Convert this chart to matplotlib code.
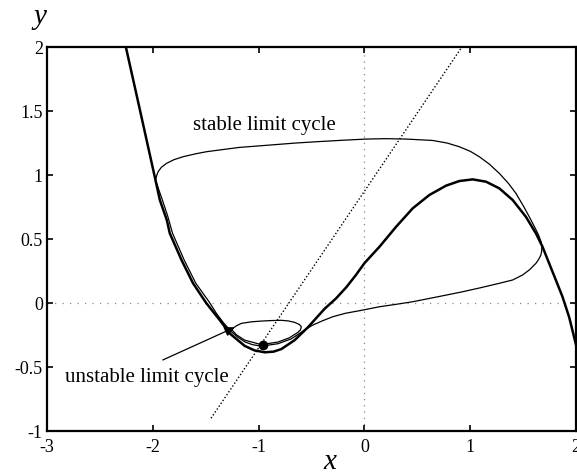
import numpy as np
import matplotlib
matplotlib.use("Agg")
import matplotlib.pyplot as plt

plt.rcParams['font.family'] = ['Liberation Serif', 'DejaVu Serif']
plt.rcParams['axes.unicode_minus'] = False

# cubic nullcline (thick)
cubic_x = [-2.255, -2.129, -2.059, -1.975, -1.934, -1.868, -1.840, -1.729, -1.620,
           -1.494, -1.368, -1.270, -1.132, -1.040, -0.943, -0.860, -0.786, -0.660,
           -0.535, -0.377, -0.270, -0.170, -0.080, 0.0, 0.142, 0.299, 0.456, 0.613,
           0.771, 0.896, 1.022, 1.148, 1.274, 1.400, 1.525, 1.620, 1.682, 1.745,
           1.808, 1.871, 1.934, 2.0]
cubic_y = [2.0, 1.534, 1.273, 0.960, 0.805, 0.648, 0.545, 0.336, 0.154,
           -0.002, -0.133, -0.240, -0.335, -0.370, -0.385, -0.380, -0.360, -0.290,
           -0.190, -0.045, 0.035, 0.125, 0.220, 0.312, 0.440, 0.596, 0.740, 0.844,
           0.917, 0.953, 0.966, 0.948, 0.896, 0.805, 0.674, 0.544, 0.440, 0.310,
           0.180, 0.049, -0.110, -0.330]

# linear nullcline (dotted)
lin_x = [-1.45, 0.92]
lin_y = [-0.90, 2.00]

# stable limit cycle
stable_x = [-1.975, -1.962, -1.950, -1.920, -1.871, -1.800, -1.714, -1.600, -1.494,
            -1.330, -1.179, -0.896, -0.650, -0.456, -0.200, 0.016, 0.200, 0.393,
            0.645, 0.780, 0.896, 1.000, 1.085, 1.180, 1.274, 1.360, 1.431, 1.500,
            1.557, 1.610, 1.645, 1.668, 1.676, 1.674, 1.667, 1.645, 1.620, 1.560,
            1.494, 1.400, 1.274, 1.100, 0.927, 0.700, 0.456, 0.300, 0.142, -0.047,
            -0.180, -0.299, -0.400, -0.488, -0.566, -0.613, -0.692, -0.818, -0.975,
            -1.060, -1.132, -1.200, -1.258, -1.337, -1.400, -1.469, -1.594, -1.704,
            -1.814, -1.860, -1.910, -1.975]
stable_y = [0.960, 1.000, 1.026, 1.060, 1.091, 1.120, 1.143, 1.165, 1.182,
            1.200, 1.216, 1.234, 1.250, 1.260, 1.272, 1.281, 1.284, 1.281,
            1.270, 1.250, 1.221, 1.185, 1.143, 1.085, 1.013, 0.935, 0.857, 0.760,
            0.674, 0.590, 0.531, 0.480, 0.440, 0.405, 0.375, 0.340, 0.310, 0.260,
            0.219, 0.180, 0.154, 0.120, 0.088, 0.050, 0.010, -0.010, -0.029, -0.060,
            -0.080, -0.107, -0.140, -0.172, -0.210, -0.237, -0.280, -0.318, -0.337,
            -0.325, -0.303, -0.265, -0.224, -0.150, -0.080, 0.010, 0.154, 0.336,
            0.545, 0.680, 0.805, 0.960]

# unstable limit cycle
unstable_x = [-1.258, -1.210, -1.163, -1.070, -0.975, -0.880, -0.786, -0.720,
              -0.660, -0.615, -0.597, -0.605, -0.629, -0.708, -0.818, -0.975,
              -1.132, -1.210, -1.258]
unstable_y = [-0.205, -0.178, -0.159, -0.147, -0.141, -0.137, -0.135, -0.140,
              -0.151, -0.168, -0.185, -0.210, -0.229, -0.271, -0.305, -0.325,
              -0.290, -0.248, -0.205]

fixed_pt = (-0.960, -0.328)

x_ticks = [-3, -2, -1, 0, 1, 2]
y_ticks = [-1, -0.5, 0, 0.5, 1, 1.5, 2]
y_tick_labels = ['-1', '-0.5', '0', '0.5', '1', '1.5', '2']

fig = plt.figure(figsize=(5.77, 4.76), dpi=100)
ax = fig.add_axes([0.0815, 0.0945, 0.917, 0.8067])

# dotted axes through the origin
ax.axvline(0, color='#888888', lw=0.9, ls=(0, (1, 4)), zorder=1)
ax.axhline(0, color='#888888', lw=0.9, ls=(0, (1, 5)), zorder=1)

ax.plot(lin_x, lin_y, color='black', lw=1.0, ls=(0, (1, 1.5)), zorder=2)
ax.plot(cubic_x, cubic_y, color='black', lw=1.8, zorder=3)
ax.plot(stable_x, stable_y, color='black', lw=0.9, zorder=3)
ax.plot(unstable_x, unstable_y, color='black', lw=0.9, zorder=3)
ax.plot(*fixed_pt, 'o', color='black', ms=6, zorder=4)

ax.text(-1.62, 1.39, 'stable limit cycle', fontsize=15, va='center', ha='left')
ax.text(-1.28, -0.58, 'unstable limit cycle', fontsize=15, va='center', ha='right')
ax.annotate('', xy=(-1.226, -0.19), xytext=(-1.906, -0.445),
            arrowprops=dict(arrowstyle='-|>', color='black', lw=0.9,
                            mutation_scale=15, shrinkA=0, shrinkB=0))

ax.set_xlim(-3, 2)
ax.set_ylim(-1, 2)
ax.set_xticks(x_ticks)
ax.set_yticks(y_ticks)
ax.set_yticklabels(y_tick_labels)
ax.tick_params(direction='in', top=True, right=True, length=4, width=1.2,
               labelsize=13)
ax.tick_params(axis='x', pad=6)
ax.tick_params(axis='y', pad=3)
for sp in ax.spines.values():
    sp.set_linewidth(1.6)

fig.text(0.572, 0.03, 'x', fontsize=21, style='italic', ha='center', va='center')
fig.text(0.069, 0.965, 'y', fontsize=21, style='italic', ha='center', va='center')

fig.savefig('out.png', dpi=100)
